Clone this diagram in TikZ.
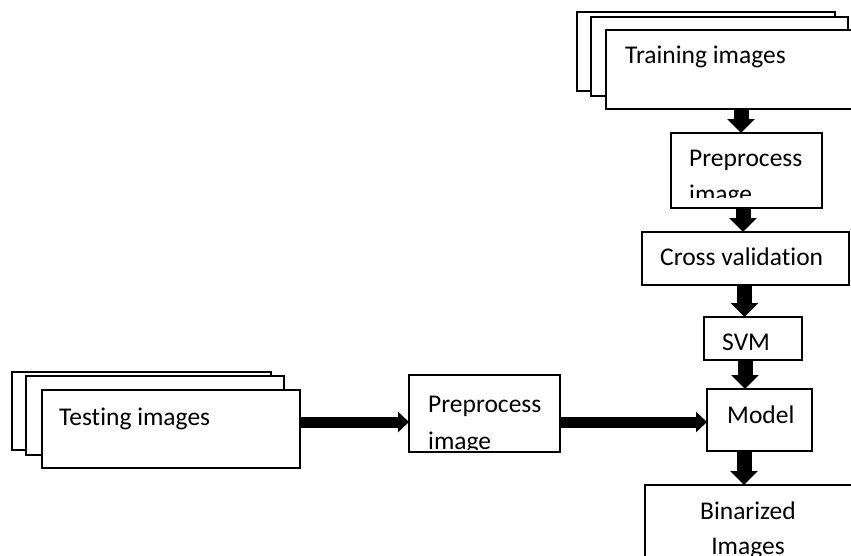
\documentclass[tikz,border=0pt]{standalone}
\usepackage{fontspec}
\setmainfont{Carlito}[Ligatures=NoCommon]
\usetikzlibrary{arrows.meta}
\begin{document}
\begin{tikzpicture}[x=1pt,y=-1pt,
  box/.style={draw=black, line width=1.5pt, fill=white, inner sep=0pt, outer sep=0pt},
  lbl/.style={inner sep=0pt, anchor=base west, font=\fontsize{25.5}{36}\selectfont},
  varrow/.style={line width=15pt, -{Triangle[width=27pt,length=14pt]}},
  harrow/.style={line width=11pt, -{Triangle[width=20pt,length=11pt]}}]
\useasboundingbox (0,0) rectangle (851,555);
\clip (0,0) rectangle (851,555);

% training stack
\node[box, minimum width=258pt, minimum height=79pt] (trB) at (706,51.5) {};
\node[box, minimum width=257pt, minimum height=79pt] (trM) at (719.5,56.5) {};
\node[box, minimum width=258pt, minimum height=79pt] (trF) at (735,69.5) {};
\node[lbl] (tTrain) at (625,63) {Training images};

% right column
\node[box, minimum width=151pt, minimum height=75pt] (prepA) at (746.5,170.5) {};
\node[box, minimum width=207pt, minimum height=53pt] (cross) at (745.5,258.5) {};
\node[box, minimum width=98pt, minimum height=43pt] (svm) at (753,338.5) {};
\node[box, minimum width=105pt, minimum height=62pt] (model) at (759.5,420) {};
\node[box, minimum width=208pt, minimum height=115pt] (bin) at (749,542.5) {};

% testing stack
\node[box, minimum width=259pt, minimum height=78pt] (teB) at (141.5,411) {};
\node[box, minimum width=258pt, minimum height=79pt] (teM) at (155,415.5) {};
\node[box, minimum width=258pt, minimum height=78pt] (teF) at (171,429) {};
\node[lbl] (tTest) at (59,425) {Testing images};

\node[box, minimum width=151pt, minimum height=77pt] (prepB) at (484.5,413.5) {};

% texts
\begin{scope}
  \clip (671,133) rectangle (822,197);
  \node[lbl] (tPrepA1) at (689,166) {Preprocess};
  \node[lbl] (tPrepA2) at (689,202) {image};
\end{scope}
\begin{scope}
  \clip (409,375) rectangle (560,449);
  \node[lbl] (tPrepB1) at (428,412) {Preprocess};
  \node[lbl] (tPrepB2) at (428,449) {image};
\end{scope}
\node[lbl] (tCross) at (660,265) {Cross validation};
\node[lbl] (tSvm) at (722,350) {SVM};
\node[lbl] (tModel) at (727,423) {Model};
\node[lbl, anchor=base] (tBin1) at (748,519) {Binarized};
\node[lbl, anchor=base] (tBin2) at (748,554) {Images};

% arrow guides
\coordinate (c1) at (741,0);
\coordinate (c2) at (743,0);
\coordinate (c3) at (744.5,0);
\coordinate (c4) at (745,0);
\coordinate (c5) at (744,0);
\coordinate (r1) at (0,422);

\draw[varrow] (trF.south -| c1) -- (prepA.north -| c1);
\draw[varrow] (prepA.south -| c2) -- (cross.north -| c2);
\draw[varrow] (cross.south -| c3) -- (svm.north -| c3);
\draw[varrow] (svm.south -| c4) -- (model.north -| c4);
\draw[varrow] (model.south -| c5) -- (bin.north -| c5);
\draw[harrow] (teF.east |- r1) -- (prepB.west |- r1);
\draw[harrow] (prepB.east |- r1) -- (model.west |- r1);
\end{tikzpicture}
\end{document}
